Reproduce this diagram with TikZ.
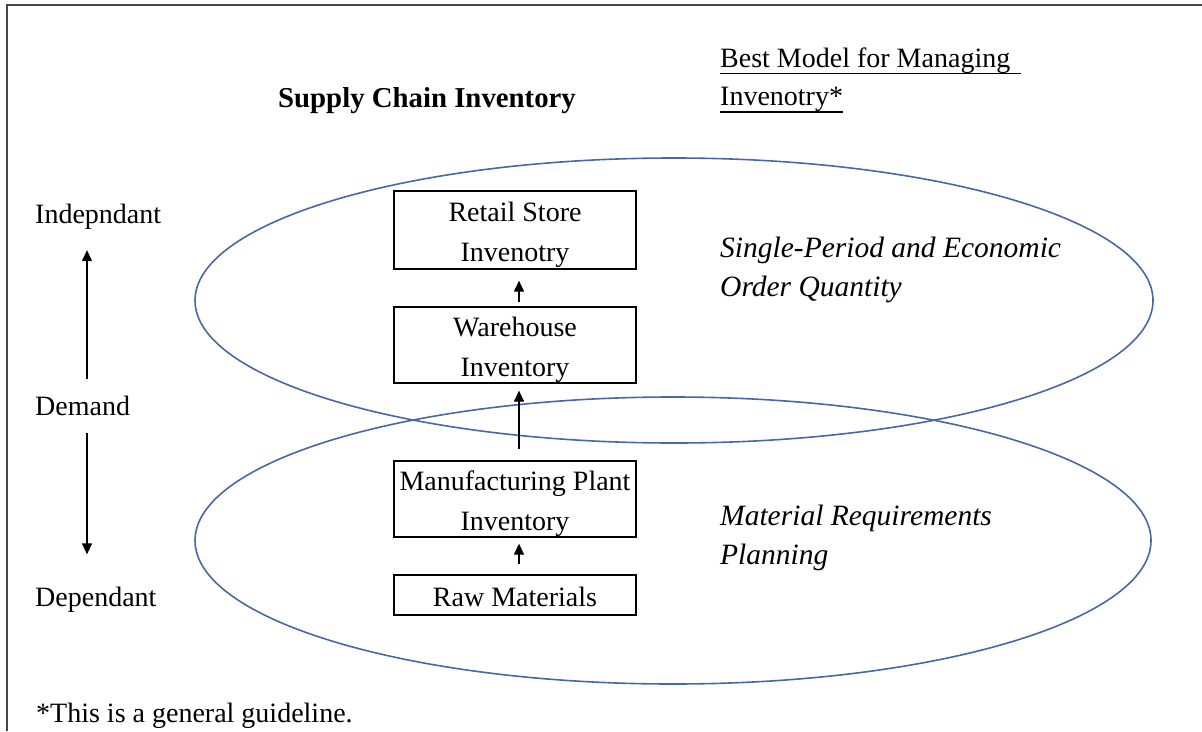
\documentclass[tikz,border=0pt]{standalone}
\usepackage{fontspec}
\setmainfont{Liberation Serif}
\usetikzlibrary{arrows.meta}
\definecolor{ringblue}{RGB}{72,104,164}
\definecolor{framegray}{RGB}{70,70,70}
\newcommand{\toplift}{\rule{0pt}{29pt}}
\tikzset{
  every node/.style={font=\fontsize{28}{40}\selectfont, inner sep=0pt},
  stockbox/.style={draw=black, line width=1.3pt, fill=white, minimum width=242pt, align=center},
  ring/.style={draw=ringblue, line width=1.6pt},
  flow/.style={draw=black, line width=1.3pt, -{Triangle[length=11pt,width=10pt]}},
  label/.style={anchor=base west},
  model/.style={anchor=base west, font=\fontsize{29.5}{39}\selectfont\itshape, align=left},
}
\begin{document}
\begin{tikzpicture}[x=1pt, y=-1pt]
\useasboundingbox (0,0) rectangle (1202,731);
% page frame (left and top edges)
\draw[framegray, line width=2pt] (7,731) -- (7,5) -- (1202,5);

% overlapping regions
\draw[ring] (674,300.5) ellipse [x radius=479, y radius=142.5];
\draw[ring] (673,540.5) ellipse [x radius=478, y radius=143.5];

% headings
\node[label, font=\fontsize{28.8}{40}\selectfont\bfseries] (title) at (278,107) {Supply Chain Inventory};
\node[label] (best1) at (720,67) {Best Model for Managing};
\node[label] (best2) at (720,105) {Invenotry*};
\draw[line width=1.3pt] ([yshift=-6.5pt]best1.base west) -- ++(301,0);
\draw[line width=1.3pt] ([yshift=-7pt]best2.base west) -- ++(123,0);

% inventory stages
\node[stockbox, minimum height=78pt] (retail) at (515,230) {\toplift Retail Store\\Invenotry};
\node[stockbox, minimum height=76pt] (warehouse) at (515,345) {\toplift Warehouse\\Inventory};
\node[stockbox, minimum height=76pt] (plant) at (515,499) {\toplift Manufacturing Plant\\Inventory};
\node[stockbox, minimum height=40pt] (raw) at (515,595) {\rule{0pt}{23pt}Raw Materials};

\draw[flow, shorten <=4pt, shorten >=11pt] ([xshift=4pt]warehouse.north) -- ([xshift=4pt]retail.south);
\draw[flow, shorten <=11pt, shorten >=7pt] ([xshift=4pt]plant.north) -- ([xshift=4pt]warehouse.south);
\draw[flow, shorten <=10pt, shorten >=6pt] ([xshift=4pt]raw.north) -- ([xshift=4pt]plant.south);

% demand axis
\node[label] (indep) at (35,223) {Indepndant};
\node[label] (demand) at (35,415) {Demand};
\node[label] (dep) at (35,606) {Dependant};
\coordinate (axis) at (87,0);
\draw[flow, shorten <=16pt, shorten >=21pt] (demand.north -| axis) -- (indep.south -| axis);
\draw[flow, shorten <=18pt, shorten >=32pt] (demand.south -| axis) -- (dep.north -| axis);

% models
\node[model] (eoq) at (720,296) {Single-Period and Economic\\Order Quantity};
\node[model] (mrp) at (720,564) {Material Requirements\\Planning};

% footnote
\node[label] (note) at (36,722) {*This is a general guideline.};
\end{tikzpicture}
\end{document}
